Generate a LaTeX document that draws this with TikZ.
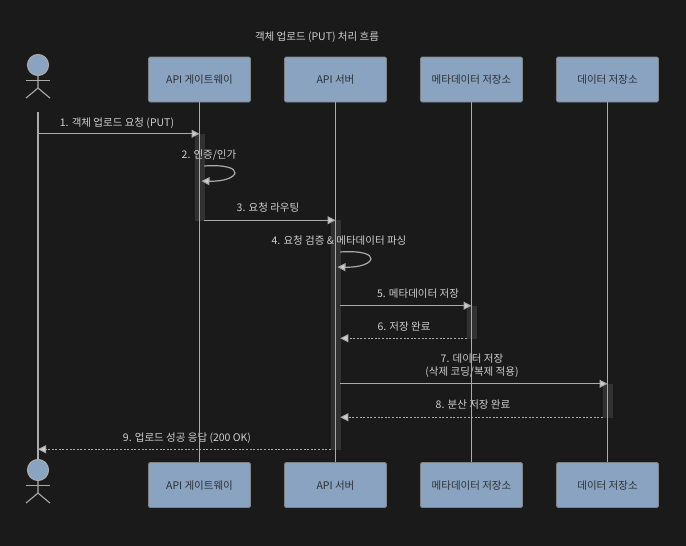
\documentclass[tikz,border=0pt]{standalone}
\usepackage{fontspec}
\setmainfont{Noto Sans CJK KR}
\usepackage{tikz}
\usetikzlibrary{positioning,arrows.meta}
\definecolor{bgdark}{HTML}{1A1A1A}
\definecolor{boxblue}{HTML}{8AA3C0}
\definecolor{boxedge}{HTML}{7F8388}
\definecolor{boxtext}{HTML}{2B2F36}
\definecolor{linegray}{HTML}{ABABAB}
\definecolor{labelgray}{HTML}{CFCFCF}

\begin{document}
\begin{tikzpicture}[
  x=1pt, y=-1pt,
  font=\fontsize{10.5}{13}\selectfont,
  part/.style={draw=boxedge, fill=boxblue, rounded corners=1.5pt, line width=0.8pt,
               minimum width=102pt, minimum height=45pt, inner sep=0pt,
               text height=8pt, text depth=0pt, text=boxtext},
  bar/.style={draw=white!10!bgdark, fill=white!10!bgdark, line width=0.5pt,
              minimum width=9pt, inner sep=0pt},
  life/.style={linegray, line width=1.2pt},
  stick/.style={draw=linegray, line width=1.1pt},
  msg/.style={linegray, line width=1.2pt, -{Triangle[length=8pt,width=8pt,fill=labelgray]}},
  back/.style={msg, line width=1pt, dash pattern=on 2pt off 1.6pt},
  lbl/.style={text=labelgray, inner sep=0pt, align=center, yshift=-1pt}
]
\fill[bgdark] (0,0) rectangle (686,546);
\useasboundingbox (0,0) rectangle (686,546);

\node[lbl] (title) at (317,36) {객체 업로드 (PUT) 처리 흐름};

% participants, top and bottom row
\node[part] (gwTop)   at (199.5,79.5) {API 게이트웨이};
\node[part] (apiTop)  at (335.5,79.5) {API 서버};
\node[part] (metaTop) at (471.5,79.5) {메타데이터 저장소};
\node[part] (dataTop) at (607.5,79.5) {데이터 저장소};
\node[part] (gwBot)   at (199.5,485) {API 게이트웨이};
\node[part] (apiBot)  at (335.5,485) {API 서버};
\node[part] (metaBot) at (471.5,485) {메타데이터 저장소};
\node[part] (dataBot) at (607.5,485) {데이터 저장소};

% stick figures
\node[circle, stick, fill=boxblue, minimum size=21pt, inner sep=0pt] (userHead) at (38,65) {};
\node[circle, stick, fill=boxblue, minimum size=21pt, inner sep=0pt] (userFoot) at (38,470) {};
\foreach \h in {userHead,userFoot}{
  \draw[stick] (\h.south) -- ++(0,12) -- ++(-12,10);
  \draw[stick] (\h.south) ++(0,12) -- ++(12,10);
  \draw[stick] (\h.south) ++(-12,4) -- ++(24,0);
}
\coordinate (userTop) at (38,112);
\coordinate (userEnd) at (38,459);

\node[bar, minimum height=86pt]  (gwBar)   at (199.5,177) {};
\node[bar, minimum height=229pt] (apiBar)  at (335.5,334.5) {};
\node[bar, minimum height=32pt]  (metaBar) at (471.5,322) {};
\node[bar, minimum height=33pt]  (dataBar) at (607.5,400.5) {};

% labels sit under the lifelines
\node[lbl] (l1) at (117,122)   {1. 객체 업로드 요청 (PUT)};
\node[lbl] (l2) at (209,154)   {2. 인증/인가};
\node[lbl] (l3) at (268,206.5) {3. 요청 라우팅};
\node[lbl] (l4) at (339,240)   {4. 요청 검증 \& 메타데이터 파싱};
\node[lbl] (l5) at (418,293)   {5. 메타데이터 저장};
\node[lbl] (l6) at (404,326)   {6. 저장 완료};
\node[lbl] (l7) at (472,364.5) {7. 데이터 저장\\(삭제 코딩/복제 적용)};
\node[lbl] (l8) at (473,404)   {8. 분산 저장 완료};
\node[lbl] (l9) at (187,437)   {9. 업로드 성공 응답 (200 OK)};

\draw[life] (userTop) -- (userEnd);
\draw[life] (gwTop) -- (gwBot);
\draw[life] (apiTop) -- (apiBot);
\draw[life] (metaTop) -- (metaBot);
\draw[life] (dataTop) -- (dataBot);

\draw[msg]  (userTop |- gwBar.north) -- (gwTop |- gwBar.north);
\draw[msg]  (gwBar.east |- 0,166) .. controls +(44,-3) and +(39,1) .. ([xshift=2pt]gwTop |- 0,181);
\draw[msg]  (gwBar.south east) -- (apiTop |- gwBar.south);
\draw[msg]  (apiBar.east |- 0,252) .. controls +(44,-3) and +(39,1) .. ([xshift=2pt]apiTop |- 0,267);
\draw[msg]  (apiBar.east |- metaBar.north) -- (metaTop |- metaBar.north);
\draw[back] (metaBar.south west) -- (apiBar.east |- metaBar.south);
\draw[msg]  (apiBar.east |- dataBar.north) -- (dataTop |- dataBar.north);
\draw[back] (dataBar.south west) -- (apiBar.east |- dataBar.south);
\draw[back] (apiBar.south west) -- (userTop |- apiBar.south);
\end{tikzpicture}
\end{document}
